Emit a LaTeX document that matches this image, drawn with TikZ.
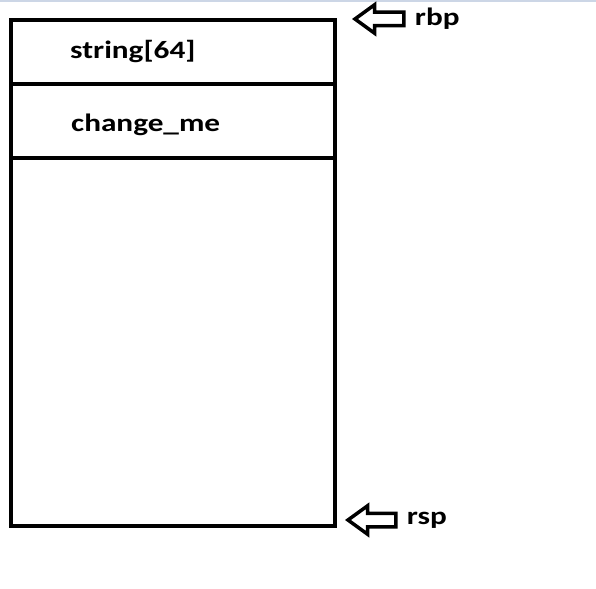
\documentclass[tikz,border=0pt]{standalone}
\usepackage{fontspec}
\setmainfont{Carlito}[FakeStretch=1.25]
\usetikzlibrary{shapes.arrows, positioning}
\definecolor{topline}{RGB}{204,214,230}
\tikzstyle{frame} = [line width=4pt, draw=black]
\tikzstyle{slot} = [font=\bfseries\fontsize{25}{30}\selectfont, inner sep=0pt, anchor=base west]
\tikzstyle{regname} = [font=\bfseries\fontsize{25}{30}\selectfont, inner sep=0pt]
\tikzstyle{pointer} = [single arrow, shape border rotate=180, draw=black, line width=3.5pt, inner sep=0pt, inner ysep=5pt, single arrow head extend=7.5pt, single arrow tip angle=72]

\begin{document}
\begin{tikzpicture}[x=1pt, y=-1pt]
    \useasboundingbox (0,0) rectangle (596,588);
    \draw [line width=2pt, topline] (0,1) -- (596,1);

    % stack frame
    \node (stack) [frame, minimum width=324pt, minimum height=506pt, anchor=north west, inner sep=0pt] at (9,18) {};
    \draw [frame] (9,84) -- (337,84);
    \draw [frame] (9,158) -- (337,158);

    \node (string) [slot] at (70,59) {string[64]};
    \node (changeme) [slot] at (71,132) {change\_me};

    % registers
    \node (rbparrow) [pointer, minimum height=49pt, anchor=tip] at (352,19) {};
    \node (rbp) [regname, right=9pt of rbparrow.tail, anchor=west] {rbp};
    \node (rsparrow) [pointer, minimum height=48pt, anchor=tip] at (345,520) {};
    \node (rsp) [regname, right=9pt of rsparrow.tail, anchor=west] {rsp};
\end{tikzpicture}
\end{document}
